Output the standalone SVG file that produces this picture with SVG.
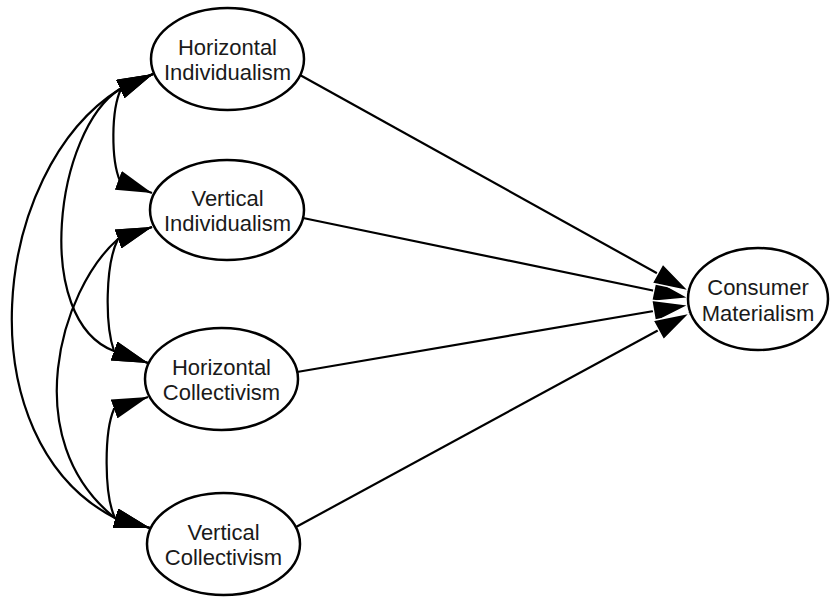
<svg xmlns="http://www.w3.org/2000/svg" width="830" height="597" viewBox="0 0 830 597">
<style>
.node ellipse{fill:#fff;stroke:#000;stroke-width:2.5}
.node text{font-family:"Liberation Sans",Arial,sans-serif;font-size:22px;fill:#1a1a1a;text-anchor:middle}
.edge{fill:none;stroke:#000;stroke-width:2.2}
</style>
<defs>
<marker id="ah" viewBox="0 0 36 20" markerUnits="userSpaceOnUse" markerWidth="36" markerHeight="20" refX="36" refY="10" orient="auto-start-reverse">
<path d="M0,0 L36,10 L0,20 Z" fill="#000"/>
</marker>
<marker id="ahw" viewBox="-1 -1 38 24" markerUnits="userSpaceOnUse" markerWidth="38" markerHeight="24" refX="36" refY="11" orient="auto">
<path d="M0,0 L36,11 L0,22 Z" fill="#000" stroke="#fff" stroke-width="1.5"/>
</marker>
</defs>
<g id="connectors">
<path class="edge" d="M303,218 L689,298" marker-end="url(#ahw)"/>
<path class="edge" d="M297,372 L689,305" marker-end="url(#ahw)"/>
<path class="edge" d="M296,527 L690,313" marker-end="url(#ahw)"/>
<path class="edge" d="M300,75 L689,291" marker-end="url(#ahw)"/>
<path class="edge" d="M153,74 L120,89 C-10,170 -36,440 115,518 L150,528" marker-start="url(#ah)" marker-end="url(#ah)"/>
<path class="edge" d="M153,74 L120,89 C55,130 32,320 114,351 L148,363" marker-start="url(#ah)" marker-end="url(#ah)"/>
<path class="edge" d="M152,227 L118,239 C60,290 17,440 115,518 L150,528" marker-start="url(#ah)" marker-end="url(#ah)"/>
<path class="edge" d="M152,227 L118,239 C105,265 105,325 114,351 L148,363" marker-start="url(#ah)" marker-end="url(#ah)"/>
<path class="edge" d="M153,74 L121,89 C111,110 111,160 120,181 L152,193" marker-start="url(#ah)" marker-end="url(#ah)"/>
<path class="edge" d="M148,397 L114,409 C104,432 104,495 115,518 L150,528" marker-start="url(#ah)" marker-end="url(#ah)"/>
</g>
<g id="HI" class="node"><ellipse cx="227.5" cy="59" rx="76.5" ry="51"/><text x="227.5" y="55">Horizontal</text><text x="227.5" y="80">Individualism</text></g>
<g id="VI" class="node"><ellipse cx="227" cy="210" rx="77" ry="50"/><text x="227.5" y="206">Vertical</text><text x="227.5" y="231">Individualism</text></g>
<g id="HC" class="node"><ellipse cx="221.5" cy="379" rx="76.5" ry="51"/><text x="221.5" y="375">Horizontal</text><text x="221.5" y="400">Collectivism</text></g>
<g id="VC" class="node"><ellipse cx="223.5" cy="544" rx="76.5" ry="51"/><text x="223.5" y="540">Vertical</text><text x="223.5" y="565">Collectivism</text></g>
<g id="CM" class="node"><ellipse cx="758" cy="299" rx="70" ry="51"/><text x="758" y="295">Consumer</text><text x="758" y="321">Materialism</text></g>
</svg>
